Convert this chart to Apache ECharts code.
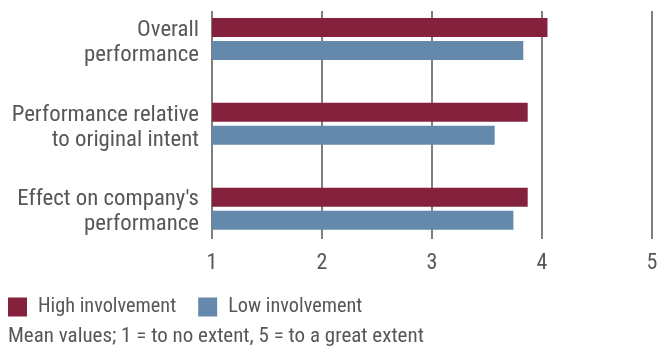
<!DOCTYPE html>
<html><head><meta charset="utf-8">
<script src="https://cdn.jsdelivr.net/npm/echarts@6/dist/echarts.min.js"></script>
<style>html,body{margin:0;padding:0;background:#fff}#c{width:666px;height:347px}</style>
</head><body><div id="c"></div>
<script>
const categories = ["Overall\nperformance", "Performance relative\nto original intent", "Effect on company's\nperformance"];
const highInvolvement = [4.05, 3.87, 3.87];
const lowInvolvement = [3.83, 3.57, 3.74];
const seriesNames = ["High involvement", "Low involvement"];
const tickValues = [1, 2, 3, 4, 5];
const footnote = "Mean values; 1 = to no extent, 5 = to a great extent";

const FONT = '"Roboto Condensed", "Liberation Sans", Arial, sans-serif';
const TXT = '#575757';
const vMin = tickValues[0], vMax = tickValues[tickValues.length - 1];
const chart = echarts.init(document.getElementById('c'), null, {renderer: 'canvas'});
chart.setOption({
  animation: false,
  grid: [
    {left: 212, width: 440, top: -3.4, height: 254.5, containLabel: false, outerBoundsMode: 'none'},
    {left: 212, width: 440, top: 11, height: 228, containLabel: false, outerBoundsMode: 'none'},
    {left: 212, width: 440, top: 0.2, height: 254.5, containLabel: false, outerBoundsMode: 'none'}
  ],
  xAxis: [
    {gridIndex: 0, type: 'value', min: vMin, max: vMax, interval: 1, show: false},
    {gridIndex: 1, type: 'value', min: vMin, max: vMax, interval: 1,
     axisLine: {show: false}, axisTick: {show: false},
     splitLine: {show: true, lineStyle: {color: '#555', width: 1.5}},
     axisLabel: {margin: 13, fontFamily: FONT, fontSize: 22, color: TXT}},
    {gridIndex: 2, type: 'value', min: vMin, max: vMax, interval: 1, show: false}
  ],
  yAxis: [
    {gridIndex: 0, type: 'category', data: categories, inverse: true, show: false},
    {gridIndex: 1, type: 'value', show: false},
    {gridIndex: 2, type: 'category', data: categories, inverse: true,
     axisLine: {show: false}, axisTick: {show: false}, splitLine: {show: false},
     axisLabel: {margin: 13, fontFamily: FONT, fontSize: 22.8, lineHeight: 25, color: TXT, align: 'right'}}
  ],
  legend: {
    left: 3, top: 292, itemWidth: 19, itemHeight: 19, itemGap: 22, icon: 'rect',
    data: seriesNames,
    textStyle: {fontFamily: FONT, fontSize: 20.3, color: TXT, padding: [0, 0, 0, 6]}
  },
  title: {
    text: footnote, left: 3, top: 321,
    textStyle: {fontFamily: FONT, fontSize: 21, fontWeight: 'normal', color: TXT}
  },
  series: [
    {name: seriesNames[0], type: 'bar', xAxisIndex: 0, yAxisIndex: 0, data: highInvolvement,
     barWidth: 19, barGap: '21%', itemStyle: {color: '#84223e'}, z: 3},
    {name: seriesNames[1], type: 'bar', xAxisIndex: 0, yAxisIndex: 0, data: lowInvolvement,
     barWidth: 19, barGap: '21%', itemStyle: {color: '#6589ab'}, z: 3}
  ]
});
</script></body></html>
